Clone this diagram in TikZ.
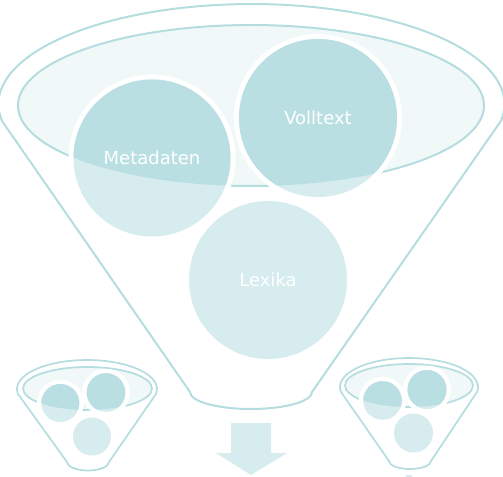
\documentclass[tikz,border=0pt]{standalone}
\usepackage{fontspec}
\setmainfont{DejaVu Sans}
\definecolor{fstroke}{HTML}{B5DDE0}
\definecolor{ellfill}{HTML}{F0F8F8}
\definecolor{darkc}{HTML}{BADFE2}
\definecolor{lightc}{HTML}{D6ECEF}
\begin{document}
\begin{tikzpicture}[x=1bp,y=-1bp,
  funnelline/.style={draw=fstroke,line width=2bp,line join=round},
  smallline/.style={draw=fstroke,line width=1.7bp,line join=round},
  innerell/.style={draw=fstroke,fill=ellfill,line width=2bp},
  smallell/.style={draw=fstroke,fill=ellfill,line width=1.7bp},
  halo/.style={fill=white},
  lightdisk/.style={fill=lightc},
  darkdisk/.style={fill=darkc},
  lbl/.style={text=white,font=\fontsize{18bp}{21bp}\selectfont,inner sep=0pt}]
\useasboundingbox (0,0) rectangle (503,477);

% ---------- main funnel ----------
\draw[funnelline] (2.3,121.4) arc[start angle=170,end angle=370,x radius=253,y radius=100]
  -- (312,392) arc[start angle=0,end angle=180,x radius=61,y radius=17] -- cycle;
\path[innerell] (251,105.5) ellipse [x radius=233,y radius=80.5];
% halos
\fill[halo] (152,158) circle [radius=83.5];
\fill[halo] (318,118) circle [radius=84];
\fill[halo] (268,280) circle [radius=84];
% light discs
\fill[lightdisk] (152,158) circle [radius=78.5];
\fill[lightdisk] (318,118) circle [radius=79];
\fill[lightdisk] (268,280) circle [radius=79];
% dark parts inside the top ellipse
\begin{scope}
  \clip (251,105.5) ellipse [x radius=233,y radius=80.5];
  \fill[darkdisk] (152,158) circle [radius=78.5];
  \fill[darkdisk] (318,118) circle [radius=79];
\end{scope}
\node[lbl] (meta) at (152,158) {Metadaten};
\node[lbl] (voll) at (318,118) {Volltext};
\node[lbl] (lex) at (268,280) {Lexika};

% ---------- left small funnel ----------
\draw[smallline] (18.06,394.04) arc[start angle=170,end angle=370,x radius=70,y radius=29]
  -- (109,462) arc[start angle=0,end angle=180,x radius=21,y radius=8.5] -- cycle;
\path[smallell] (87.5,388.5) ellipse [x radius=64.5,y radius=21.5];
\fill[halo] (60.3,403) circle [radius=23.5];
\fill[halo] (106,392.5) circle [radius=23.8];
\fill[halo] (92,436.5) circle [radius=23.5];
\fill[lightdisk] (60.3,403) circle [radius=19];
\fill[lightdisk] (106,392.5) circle [radius=19.3];
\fill[lightdisk] (92,436.5) circle [radius=19];
\begin{scope}
  \clip (87.5,388.5) ellipse [x radius=64.5,y radius=21.5];
  \fill[darkdisk] (60.3,403) circle [radius=19];
  \fill[darkdisk] (106,392.5) circle [radius=19.3];
\end{scope}

% ---------- right small funnel ----------
\draw[smallline] (341.05,392.04) arc[start angle=170,end angle=370,x radius=69,y radius=29]
  -- (431,461) arc[start angle=0,end angle=180,x radius=21,y radius=8] -- cycle;
\path[smallell] (409,385.5) ellipse [x radius=64,y radius=21.5];
\fill[halo] (382.5,400.5) circle [radius=23.8];
\fill[halo] (427,389.5) circle [radius=24];
\fill[halo] (413.5,433) circle [radius=24];
\fill[lightdisk] (382.5,400.5) circle [radius=19.3];
\fill[lightdisk] (427,389.5) circle [radius=19.5];
\fill[lightdisk] (413.5,433) circle [radius=19.5];
\begin{scope}
  \clip (409,385.5) ellipse [x radius=64,y radius=21.5];
  \fill[darkdisk] (382.5,400.5) circle [radius=19.3];
  \fill[darkdisk] (427,389.5) circle [radius=19.5];
\end{scope}
\fill[lightdisk] (406,475) rectangle (412,477);

% ---------- arrow ----------
\fill[lightdisk] (231,423) -- (271,423) -- (271,453) -- (287,453) -- (251,475)
  -- (216,453) -- (231,453) -- cycle;
\end{tikzpicture}
\end{document}
